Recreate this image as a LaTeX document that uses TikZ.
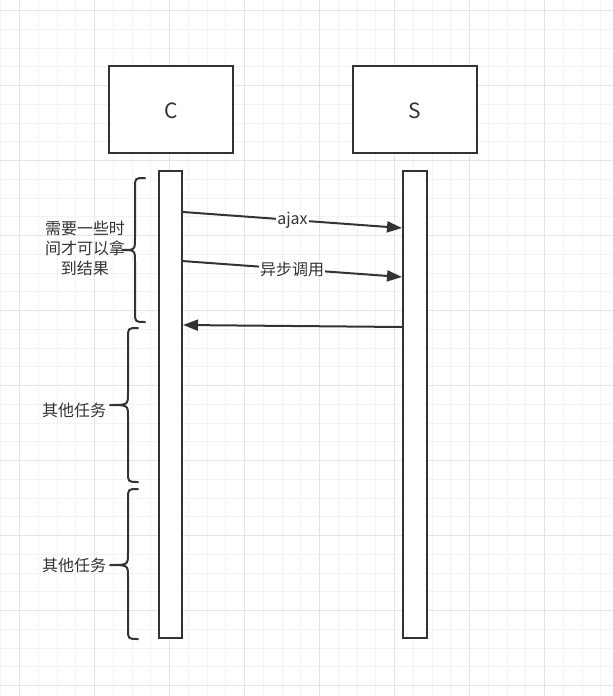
\documentclass[tikz,border=0pt]{standalone}
\usepackage{fontspec}
\setmainfont{Noto Sans CJK SC}
\usetikzlibrary{arrows.meta}
\definecolor{ln}{HTML}{333333}
\definecolor{gminor}{HTML}{F3F3F3}
\definecolor{gmajor}{HTML}{E4E4E4}
\tikzset{
  minorline/.style={gminor, line width=1pt},
  majorline/.style={gmajor, line width=1pt},
  box/.style={draw=ln, line width=2pt, fill=white, minimum width=124pt, minimum height=87pt, inner sep=0pt, text=ln},
  boxtext/.style={text=ln, font=\fontsize{21}{24}\selectfont, inner sep=0pt},
  bar/.style={draw=ln, line width=2pt, fill=white, minimum width=23pt, minimum height=467pt, inner sep=0pt},
  msg/.style={draw=ln, line width=2pt, -{Triangle[length=15pt,width=11pt]}},
  lbl/.style={fill=white, inner sep=1pt, text=ln, font=\fontsize{16}{18}\selectfont},
  brace/.style={draw=ln, line width=2pt, line cap=round, line join=round},
  side/.style={text=ln, font=\fontsize{16}{20}\selectfont, align=center, inner sep=0pt}
}
\begin{document}
\begin{tikzpicture}[x=1pt,y=-1pt]
\useasboundingbox (0,0) rectangle (613,696);
\fill[white] (0,0) rectangle (613,696);
% grid
\foreach \i in {0,...,33} {
  \draw[minorline] ({0.75+18.75*\i},0) -- ({0.75+18.75*\i},696);
}
\foreach \i in {0,...,37} {
  \draw[minorline] (0,{-8.05+18.75*\i}) -- (613,{-8.05+18.75*\i});
}
\foreach \i in {0,...,8} {
  \draw[majorline] ({19.5+75*\i},0) -- ({19.5+75*\i},696);
}
\foreach \i in {0,...,9} {
  \draw[majorline] (0,{10.7+75*\i}) -- (613,{10.7+75*\i});
}
% actors
\node[box] (c) at (171,109.5) {};
\node[boxtext] (ct) at (171,111) {C};
\node[box] (s) at (415,109.5) {};
\node[boxtext] (st) at (415,111) {S};
% lifeline bars
\node[bar] (cb) at (170.5,404.5) {};
\node[bar, minimum width=24pt] (sb) at (415,404.5) {};
% message endpoints
\coordinate (a1) at (183,212);
\coordinate (a2) at (402,228);
\coordinate (b1) at (182,261);
\coordinate (b2) at (402,277);
\coordinate (r1) at (402,327);
\coordinate (r2) at (183,325);
\draw[msg] (a1) -- node[lbl, pos=0.5] (la) {ajax} (a2);
\draw[msg] (b1) -- node[lbl, pos=0.5] (lb) {异步调用} (b2);
\draw[msg] (r1) -- (r2);
% braces
\draw[brace] (145,178) .. controls (135,178) .. (135,188) -- (135,238) .. controls (135,250) .. (122,250)
  .. controls (135,250) .. (135,262) -- (135,312) .. controls (135,322) .. (145,322);
\draw[brace] (138,328) .. controls (128,328) .. (128,338) -- (128,393) .. controls (128,405) .. (110,405)
  .. controls (128,405) .. (128,417) -- (128,472) .. controls (128,482) .. (138,482);
\draw[brace] (138,489) .. controls (128,489) .. (128,499) -- (128,553) .. controls (128,565) .. (110,565)
  .. controls (128,565) .. (128,577) -- (128,629) .. controls (128,639) .. (138,639);
% side labels
\node[side] (t1) at (85,248) {需要一些时\\间才可以拿\\到结果};
\node[side] (t2) at (74,410) {其他任务};
\node[side] (t3) at (74,565) {其他任务};
\end{tikzpicture}
\end{document}
